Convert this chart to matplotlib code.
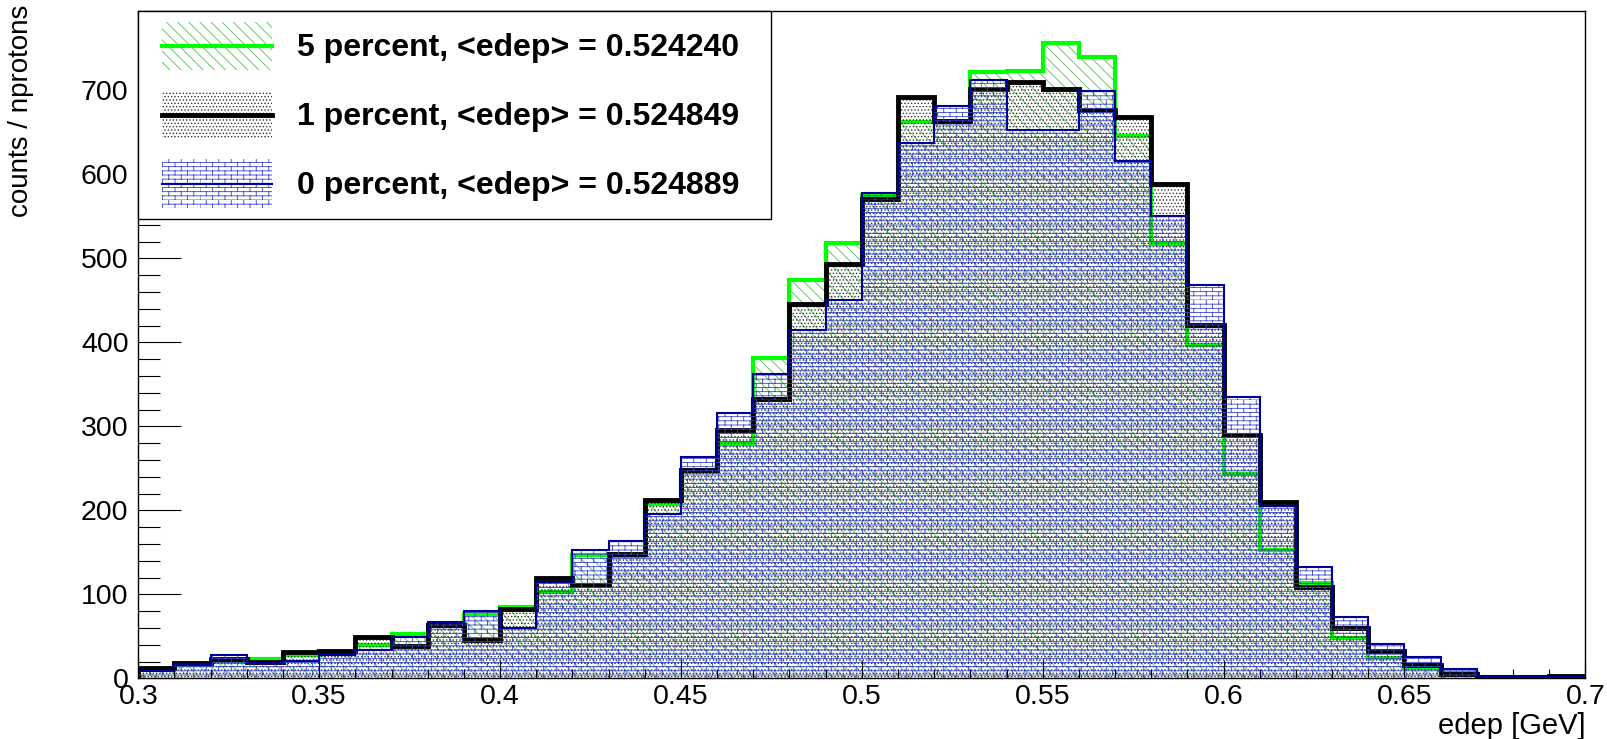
import matplotlib.pyplot as plt
import matplotlib.hatch as mhatch
import numpy as np
from matplotlib.patches import Rectangle
from matplotlib.lines import Line2D
from matplotlib.path import Path
from matplotlib.ticker import MultipleLocator

plt.rcParams['font.family'] = ['Liberation Sans', 'DejaVu Sans']
plt.rcParams['hatch.linewidth'] = 0.6


# ROOT-like brick hatch, used in place of the small circles ('o')
class Bricks(mhatch.HatchPatternBase):
    def __init__(self, hatch, density):
        self.rows = int(hatch.count('o') * density)
        if self.rows % 2:
            self.rows += 1
        self.cols = self.rows // 3
        self.num_vertices = 0 if hatch.count('o') == 0 else 2 * self.rows * (1 + self.cols)

    def set_vertices_and_codes(self, vertices, codes):
        k = 0
        for i in range(self.rows):
            y0 = i / self.rows
            y1 = (i + 1) / self.rows
            vertices[k] = (0, y0)
            vertices[k + 1] = (1, y0)
            k += 2
            shift = 0.5 * (i % 2) / self.cols
            for j in range(self.cols):
                x = j / self.cols + shift
                vertices[k] = (x, y0)
                vertices[k + 1] = (x, y1)
                k += 2
        codes[0::2] = Path.MOVETO
        codes[1::2] = Path.LINETO


mhatch._hatch_types = [t for t in mhatch._hatch_types if t is not mhatch.SmallCircles] + [Bricks]

# 40 bins of 0.01 GeV between 0.3 and 0.7
edges = np.round(np.linspace(0.3, 0.7, 41), 2)

h5 = [10, 16, 20, 23, 28, 30, 40, 53, 63, 76,
      85, 103, 147, 146, 208, 246, 280, 382, 474, 518,
      575, 662, 662, 722, 723, 756, 740, 646, 518, 397,
      243, 153, 113, 48, 24, 12, 6, 2, 1, 1]
h1 = [12, 18, 23, 20, 31, 33, 49, 38, 64, 46,
      83, 119, 111, 148, 212, 248, 296, 333, 446, 493,
      571, 692, 664, 702, 710, 702, 677, 669, 589, 421,
      290, 210, 109, 60, 32, 16, 5, 1, 1, 3]
h0 = [9, 17, 28, 18, 21, 28, 34, 49, 67, 80,
      60, 115, 153, 163, 196, 264, 316, 362, 415, 451,
      578, 637, 681, 713, 653, 653, 699, 616, 550, 468,
      335, 205, 132, 73, 41, 25, 11, 2, 1, 1]

labels = ['5 percent, <edep> = 0.524240',
          '1 percent, <edep> = 0.524849',
          '0 percent, <edep> = 0.524889']
xticks = [0.3, 0.35, 0.4, 0.45, 0.5, 0.55, 0.6, 0.65, 0.7]
xticklabels = ['0.3', '0.35', '0.4', '0.45', '0.5', '0.55', '0.6', '0.65', '0.7']
yticks = [0, 100, 200, 300, 400, 500, 600, 700]

W, H = 1608, 739
fig = plt.figure(figsize=(W / 100, H / 100), dpi=100)
ax = fig.add_axes([138.3 / W, 1 - 678.3 / H, (1585.3 - 138.3) / W, (678.3 - 10.7) / H])

styles = [
    dict(hatch='\\\\\\', hcolor='#4cc44c', lcolor='#00ff00', lw=3.0),
    dict(hatch='.....', hcolor='#333333', lcolor='black', lw=3.5),
    dict(hatch='oooo', hcolor='#3a44cc', lcolor='#000099', lw=1.5),
]

for vals, st in zip([h5, h1, h0], styles):
    ax.stairs(vals, edges, fill=True, facecolor='none', edgecolor=st['hcolor'],
              linewidth=0, hatch=st['hatch'])
    ax.stairs(vals, edges, color=st['lcolor'], linewidth=st['lw'])

ax.set_xlim(0.3, 0.7)
ax.set_ylim(0, 795)
ax.set_xticks(xticks, labels=xticklabels)
ax.set_yticks(yticks)
ax.xaxis.set_minor_locator(MultipleLocator(0.01))
ax.yaxis.set_minor_locator(MultipleLocator(20))
ax.tick_params(axis='y', which='major', direction='in', length=31, width=0.8, labelsize=20.5, pad=7)
ax.tick_params(axis='y', which='minor', direction='in', length=16, width=0.8)
ax.tick_params(axis='x', which='major', direction='in', length=13, width=0.8, labelsize=20.5, pad=4)
ax.tick_params(axis='x', which='minor', direction='in', length=6.5, width=0.8)
for sp in ax.spines.values():
    sp.set_linewidth(1.0)

ax.set_xlabel('edep [GeV]', fontsize=21, loc='right')
ax.xaxis.set_label_coords(1.0, -(712 - 678.3) / (678.3 - 10.7))
ax.set_ylabel('counts / nprotons', fontsize=20, loc='top')
ax.yaxis.set_label_coords(-(138.3 - 34) / (1585.3 - 138.3), 1 + 5.7 / (678.3 - 10.7))


# legend, ROOT style box in the upper left corner
def fxy(x, y):
    return x / W, 1 - y / H


fig.add_artist(Rectangle(fxy(138.3, 219), (771.3 - 138.3) / W, (219 - 10.7) / H,
                         transform=fig.transFigure, facecolor='white', edgecolor='black',
                         linewidth=1, zorder=5))
rows = [45.7, 115, 183.5]
for lab, st, yc in zip(labels, styles, rows):
    fig.add_artist(Rectangle(fxy(161.7, yc + 24), 110 / W, 48 / H, transform=fig.transFigure,
                             facecolor='none', edgecolor=st['hcolor'], linewidth=0,
                             hatch=st['hatch'], zorder=6))
    fig.add_artist(Line2D([161.7 / W, 271.7 / W], [1 - yc / H] * 2, transform=fig.transFigure,
                          color=st['lcolor'], linewidth=st['lw'], zorder=7))
    fig.text(296.7 / W, 1 - (yc + 10.5) / H, lab, fontsize=23, fontweight='bold',
             va='baseline', zorder=8)

fig.savefig('out.png', dpi=100)
